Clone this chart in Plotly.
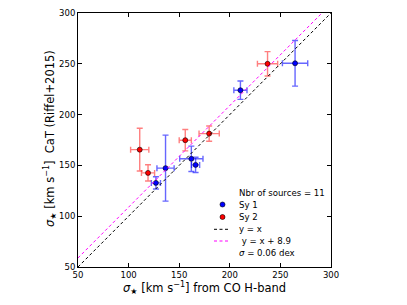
import plotly.graph_objects as go

# ---- data ----
sy1_x = [127.0, 136.5, 162.0, 166.2, 210.5, 264.5]
sy1_y = [132.8, 147.3, 156.5, 150.5, 224.0, 250.5]
sy1_xerr = [4.5, 8.5, 11.5, 4.0, 6.5, 12.5]
sy1_yerr = [6.0, 32.5, 12.5, 7.5, 9.0, 22.5]

sy2_x = [111.0, 119.2, 156.0, 179.6, 237.3]
sy2_y = [165.5, 142.6, 174.8, 181.3, 250.0]
sy2_xerr = [9.0, 6.5, 6.0, 10.0, 10.0]
sy2_yerr = [21.0, 8.0, 10.5, 7.5, 12.0]

line_x = [50, 300]
offset = 8.9
n_sources = len(sy1_x) + len(sy2_x)
scatter_dex = 0.06
ticks = [50, 100, 150, 200, 250, 300]

FONT = "DejaVu Sans"

fig = go.Figure()

def add_series(x, y, xe, ye, color, ecolor):
    fig.add_trace(go.Scatter(
        x=x, y=y, mode="markers",
        marker=dict(color=color, size=5, line=dict(color="#000000", width=0.6)),
        error_x=dict(type="data", array=xe, color=ecolor, thickness=1.4, width=3),
        error_y=dict(type="data", array=ye, color=ecolor, thickness=1.4, width=3),
        showlegend=False, cliponaxis=True,
    ))

add_series(sy1_x, sy1_y, sy1_xerr, sy1_yerr, "#0000ff", "rgba(0,0,255,0.6)")
add_series(sy2_x, sy2_y, sy2_xerr, sy2_yerr, "#ff0000", "rgba(255,0,0,0.5)")

fig.add_trace(go.Scatter(x=line_x, y=[v for v in line_x], mode="lines",
                         line=dict(color="black", width=1, dash="3px,2.5px"),
                         showlegend=False))
fig.add_trace(go.Scatter(x=line_x, y=[v + offset for v in line_x], mode="lines",
                         line=dict(color="#ff00ff", width=1, dash="3px,2.5px"),
                         showlegend=False))

# page offset: the html body adds an 8px margin around the figure
PAGE = 8
L, R, T, B = 78.0, 331.0, 13.0, 267.0  # plot box in page pixels
def px(xp):
    return (xp - L) / (R - L)
def py(yp):
    return (B - yp) / (B - T)

rows = [192.5, 204.5, 217.0, 229.3, 241.0, 253.0]
texts = [f"Nbr of sources = {n_sources}", "Sy 1", "Sy 2", "y = x",
         f"\u00a0y = x + {offset}", f"<i>σ</i> = {scatter_dex} dex"]
for r, t in zip(rows, texts):
    fig.add_annotation(x=px(237), y=py(r), xref="paper", yref="paper",
                       text=t, showarrow=False, xanchor="left", yanchor="middle",
                       font=dict(family=FONT, size=8.6, color="black"))

for r, c in [(rows[1], "#0000ff"), (rows[2], "#ff0000")]:
    fig.add_shape(type="circle", xref="paper", yref="paper",
                  x0=px(220), x1=px(225), y0=py(r + 2.5), y1=py(r - 2.5),
                  fillcolor=c, line=dict(color="black", width=0.6))
for r, c in [(rows[3], "black"), (rows[4], "#ff00ff")]:
    fig.add_shape(type="line", xref="paper", yref="paper",
                  x0=px(214), x1=px(229), y0=py(r), y1=py(r),
                  line=dict(color=c, width=1, dash="3px,2.5px"))

# axis titles
fig.add_annotation(x=px(204), y=py(288), xref="paper", yref="paper",
                   text="<i>σ</i><sub>★</sub> [km s<sup>−1</sup>] from CO H-band",
                   showarrow=False, xanchor="center", yanchor="middle",
                   font=dict(family=FONT, size=11.5, color="black"))
fig.add_annotation(x=px(50), y=py(139), xref="paper", yref="paper",
                   text="<i>σ</i><sub>★</sub> [km s<sup>−1</sup>]\u00a0\u00a0CaT (Riffel+2015)",
                   showarrow=False, xanchor="center", yanchor="middle", textangle=-90,
                   font=dict(family=FONT, size=11.5, color="black"))

axis_common = dict(
    range=[50, 300], tickvals=ticks, ticktext=[str(t) for t in ticks],
    ticks="inside", ticklen=4, tickwidth=0.8, tickcolor="black",
    showline=True, linecolor="black", linewidth=1, mirror="ticks",
    showgrid=False, zeroline=False, automargin=False,
    ticklabeloverflow="allow",
    tickfont=dict(family=FONT, size=8.5, color="black"),
)

W, H = 407 - PAGE, 305 - PAGE
fig.update_layout(
    width=W, height=H,
    margin=dict(l=L - PAGE, r=W - (R - PAGE), t=T - PAGE, b=H - (B - PAGE),
                autoexpand=False),
    paper_bgcolor="white", plot_bgcolor="white",
    xaxis=dict(**axis_common),
    yaxis=dict(**axis_common),
    showlegend=False,
)

fig.write_html("out.html")
